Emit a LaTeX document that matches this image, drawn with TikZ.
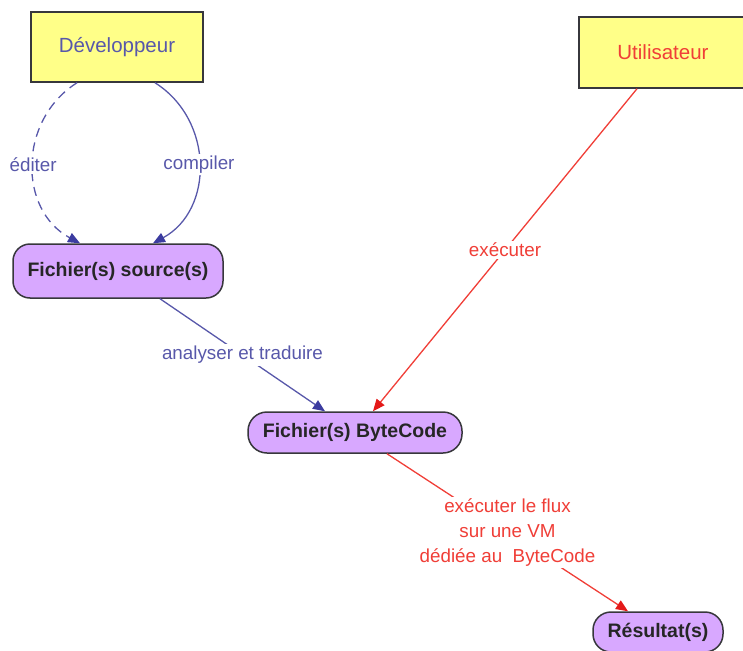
\documentclass[tikz,border=0pt]{standalone}
\usepackage{fontspec}
\setmainfont{Liberation Sans}
\usetikzlibrary{arrows.meta,calc}
\definecolor{ublue}{RGB}{88,88,170}
\definecolor{ubluedark}{RGB}{60,60,160}
\definecolor{ured}{RGB}{240,62,55}
\definecolor{ureddark}{RGB}{228,25,25}
\definecolor{uyellow}{RGB}{255,255,136}
\definecolor{upurple}{RGB}{216,168,255}
\definecolor{uborder}{RGB}{55,55,60}
\tikzset{
  actor/.style={draw=uborder, line width=1.5pt, fill=uyellow, inner sep=0pt, font=\fontsize{20.5}{24}\selectfont},
  filebox/.style={draw=uborder, line width=1.5pt, fill=upurple, inner sep=0pt, rounded corners=17pt, font=\fontsize{19.5}{23}\selectfont\bfseries, text=black!85},
  bluetip/.tip={Triangle[length=12pt,width=10pt,fill=ubluedark,color=ubluedark]},
  redtip/.tip={Triangle[length=12pt,width=10pt,fill=ureddark,color=ureddark]},
  bluearrow/.style={draw=ublue, line width=1.3pt, -bluetip},
  redarrow/.style={draw=ured, line width=1.3pt, -redtip},
  lbl/.style={fill=white, inner sep=2pt, font=\fontsize{18.8}{25}\selectfont, align=center},
}
\begin{document}
\begin{tikzpicture}[x=1pt,y=-1pt]
\useasboundingbox (0,0) rectangle (743,650);
\node[actor, text=ublue, minimum width=172pt, minimum height=70pt] (dev) at (117,47) {Développeur};
\node[actor, text=ured, minimum width=168pt, minimum height=71pt] (util) at (663,52.5) {Utilisateur};
\node[filebox, minimum width=210pt, minimum height=54pt] (src) at (118,271) {Fichier(s) source(s)};
\node[filebox, minimum width=214pt, minimum height=41pt, rounded corners=19pt] (bc) at (355,432.5) {Fichier(s) ByteCode};
\node[filebox, minimum width=130pt, minimum height=40pt, rounded corners=18pt] (res) at (658,632) {Résultat(s)};

\draw[bluearrow, dash pattern=on 9pt off 6pt] ([xshift=-40pt]dev.south) .. controls (18,120) and (18,210) .. ([xshift=-38pt]src.north)
  node[lbl, pos=0.5, text=ublue] {éditer};
\draw[bluearrow] ([xshift=38pt]dev.south) .. controls (214,120) and (214,210) .. ([xshift=35pt]src.north)
  node[lbl, pos=0.5, text=ublue] {compiler};
\draw[bluearrow] ([xshift=42pt]src.south) -- ([xshift=-30pt]bc.north)
  node[lbl, pos=0.5, text=ublue] {analyser et traduire};
\draw[redarrow] ([xshift=-26pt]util.south) -- ([xshift=18pt]bc.north)
  node[lbl, pos=0.5, text=ured] {exécuter};
\draw[redarrow] ([xshift=32pt]bc.south) -- ([xshift=-30pt]res.north)
  node[lbl, pos=0.5, text=ured] {exécuter le flux\\sur une VM\\dédiée au~ ByteCode};
\end{tikzpicture}
\end{document}
